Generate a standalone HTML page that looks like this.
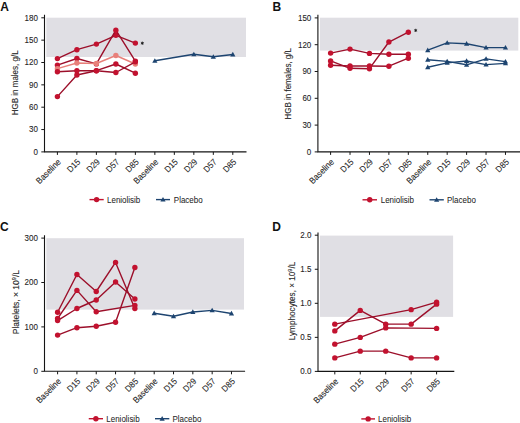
<!DOCTYPE html>
<html><head><meta charset="utf-8"><style>
html,body{margin:0;padding:0;background:#fff;}
body{width:520px;height:423px;overflow:hidden;}
svg{display:block;font-family:"Liberation Sans", sans-serif;}
text{stroke:#262626;stroke-width:0.1px;}
text.lg{stroke-width:0.05px;}
text[font-weight]{stroke:none;}
</style></head><body>
<svg width="520" height="423" viewBox="0 0 520 423" fill="#262626">
<rect x="46.3" y="17.7" width="199.7" height="39.3" fill="#e0dfe4"/>
<text transform="translate(0.3 10.5)" font-size="12" font-weight="bold" fill="#111">A</text>
<path d="M44.5 14.8V151.9H246.5" fill="none" stroke="#151515" stroke-width="1.1"/>
<path d="M41.3 151.9H44.5" stroke="#151515" stroke-width="1"/>
<text transform="translate(37.9 154.8) scale(0.9 1)" font-size="8.9" text-anchor="end">0</text>
<path d="M41.3 129.55H44.5" stroke="#151515" stroke-width="1"/>
<text transform="translate(37.9 132.45) scale(0.9 1)" font-size="8.9" text-anchor="end">30</text>
<path d="M41.3 107.2H44.5" stroke="#151515" stroke-width="1"/>
<text transform="translate(37.9 110.1) scale(0.9 1)" font-size="8.9" text-anchor="end">60</text>
<path d="M41.3 84.85H44.5" stroke="#151515" stroke-width="1"/>
<text transform="translate(37.9 87.75) scale(0.9 1)" font-size="8.9" text-anchor="end">90</text>
<path d="M41.3 62.5H44.5" stroke="#151515" stroke-width="1"/>
<text transform="translate(37.9 65.4) scale(0.9 1)" font-size="8.9" text-anchor="end">120</text>
<path d="M41.3 40.15H44.5" stroke="#151515" stroke-width="1"/>
<text transform="translate(37.9 43.05) scale(0.9 1)" font-size="8.9" text-anchor="end">150</text>
<path d="M41.3 17.8H44.5" stroke="#151515" stroke-width="1"/>
<text transform="translate(37.9 20.7) scale(0.9 1)" font-size="8.9" text-anchor="end">180</text>
<path d="M57.4 151.9V154.9" stroke="#151515" stroke-width="1"/>
<text transform="translate(61.5 162.5) rotate(-45) scale(0.93 1)" font-size="8.7" text-anchor="end">Baseline</text>
<path d="M76.89 151.9V154.9" stroke="#151515" stroke-width="1"/>
<text transform="translate(80.99 162.5) rotate(-45) scale(0.93 1)" font-size="8.7" text-anchor="end">D15</text>
<path d="M96.38 151.9V154.9" stroke="#151515" stroke-width="1"/>
<text transform="translate(100.48 162.5) rotate(-45) scale(0.93 1)" font-size="8.7" text-anchor="end">D29</text>
<path d="M115.87 151.9V154.9" stroke="#151515" stroke-width="1"/>
<text transform="translate(119.97 162.5) rotate(-45) scale(0.93 1)" font-size="8.7" text-anchor="end">D57</text>
<path d="M135.36 151.9V154.9" stroke="#151515" stroke-width="1"/>
<text transform="translate(139.46 162.5) rotate(-45) scale(0.93 1)" font-size="8.7" text-anchor="end">D85</text>
<path d="M154.85 151.9V154.9" stroke="#151515" stroke-width="1"/>
<text transform="translate(158.95 162.5) rotate(-45) scale(0.93 1)" font-size="8.7" text-anchor="end">Baseline</text>
<path d="M174.34 151.9V154.9" stroke="#151515" stroke-width="1"/>
<text transform="translate(178.44 162.5) rotate(-45) scale(0.93 1)" font-size="8.7" text-anchor="end">D15</text>
<path d="M193.83 151.9V154.9" stroke="#151515" stroke-width="1"/>
<text transform="translate(197.93 162.5) rotate(-45) scale(0.93 1)" font-size="8.7" text-anchor="end">D29</text>
<path d="M213.32 151.9V154.9" stroke="#151515" stroke-width="1"/>
<text transform="translate(217.42 162.5) rotate(-45) scale(0.93 1)" font-size="8.7" text-anchor="end">D57</text>
<path d="M232.81 151.9V154.9" stroke="#151515" stroke-width="1"/>
<text transform="translate(236.91 162.5) rotate(-45) scale(0.93 1)" font-size="8.7" text-anchor="end">D85</text>
<text transform="translate(18.4 82.8) rotate(-90) scale(0.952 1)" font-size="8.4" text-anchor="middle">HGB in males, g/L</text>
<path d="M57.4 58.6L76.89 49.7L96.38 44.1L115.87 35.3L135.36 43.1" fill="none" stroke="#9c0f2a" stroke-width="1.4" stroke-linejoin="round"/>
<circle cx="57.4" cy="58.6" r="2.7" fill="#c2122f"/>
<circle cx="76.89" cy="49.7" r="2.7" fill="#c2122f"/>
<circle cx="96.38" cy="44.1" r="2.7" fill="#c2122f"/>
<circle cx="115.87" cy="35.3" r="2.7" fill="#c2122f"/>
<circle cx="135.36" cy="43.1" r="2.7" fill="#c2122f"/>
<path d="M57.4 65.1L76.89 58.5L96.38 63.9L115.87 30.2L135.36 61.1" fill="none" stroke="#9c0f2a" stroke-width="1.4" stroke-linejoin="round"/>
<circle cx="57.4" cy="65.1" r="2.7" fill="#c2122f"/>
<circle cx="76.89" cy="58.5" r="2.7" fill="#c2122f"/>
<circle cx="96.38" cy="63.9" r="2.7" fill="#c2122f"/>
<circle cx="115.87" cy="30.2" r="2.7" fill="#c2122f"/>
<circle cx="135.36" cy="61.1" r="2.7" fill="#c2122f"/>
<path d="M57.4 68.7L76.89 63L96.38 63.5L115.87 55.5L135.36 64" fill="none" stroke="#e8807a" stroke-width="1.4" stroke-linejoin="round"/>
<circle cx="57.4" cy="68.7" r="2.7" fill="#e8807a"/>
<circle cx="76.89" cy="63" r="2.7" fill="#e8807a"/>
<circle cx="96.38" cy="63.5" r="2.7" fill="#e8807a"/>
<circle cx="115.87" cy="55.5" r="2.7" fill="#e8807a"/>
<circle cx="135.36" cy="64" r="2.7" fill="#e8807a"/>
<path d="M57.4 71.8L76.89 70.7L96.38 70.7L115.87 64L135.36 73.2" fill="none" stroke="#9c0f2a" stroke-width="1.4" stroke-linejoin="round"/>
<circle cx="57.4" cy="71.8" r="2.7" fill="#c2122f"/>
<circle cx="76.89" cy="70.7" r="2.7" fill="#c2122f"/>
<circle cx="96.38" cy="70.7" r="2.7" fill="#c2122f"/>
<circle cx="115.87" cy="64" r="2.7" fill="#c2122f"/>
<circle cx="135.36" cy="73.2" r="2.7" fill="#c2122f"/>
<path d="M57.4 96.6L76.89 75L96.38 70.7L115.87 72.5L135.36 61.8" fill="none" stroke="#9c0f2a" stroke-width="1.4" stroke-linejoin="round"/>
<circle cx="57.4" cy="96.6" r="2.7" fill="#c2122f"/>
<circle cx="76.89" cy="75" r="2.7" fill="#c2122f"/>
<circle cx="96.38" cy="70.7" r="2.7" fill="#c2122f"/>
<circle cx="115.87" cy="72.5" r="2.7" fill="#c2122f"/>
<circle cx="135.36" cy="61.8" r="2.7" fill="#c2122f"/>
<path d="M154.85 60.8L193.83 54.3L213.32 56.8L232.81 54.5" fill="none" stroke="#1d4470" stroke-width="1.4" stroke-linejoin="round"/>
<path d="M152.25 62.73L157.45 62.73L154.85 58.13Z" fill="#1d4470"/>
<path d="M191.23 56.23L196.43 56.23L193.83 51.63Z" fill="#1d4470"/>
<path d="M210.72 58.73L215.92 58.73L213.32 54.13Z" fill="#1d4470"/>
<path d="M230.21 56.43L235.41 56.43L232.81 51.83Z" fill="#1d4470"/>
<path d="M142.3 41.6V44.8M140.9 42.4L143.7 44M140.9 44L143.7 42.4" stroke="#1a1a1a" stroke-width="0.9"/>
<path d="M89.5 199.6H103.7" stroke="#c2122f" stroke-width="1.4"/>
<circle cx="96.6" cy="199.6" r="2.7" fill="#c2122f"/>
<text transform="translate(107 202.7) scale(0.952 1)" font-size="8.4" class="lg">Leniolisib</text>
<path d="M156 199.6H170" stroke="#1d4470" stroke-width="1.4"/>
<path d="M160.4 201.53L165.6 201.53L163 196.93Z" fill="#1d4470"/>
<text transform="translate(173.8 202.7) scale(0.952 1)" font-size="8.4" class="lg">Placebo</text>
<rect x="320" y="17.7" width="198.3" height="32.9" fill="#e0dfe4"/>
<text transform="translate(272.4 10.6)" font-size="12" font-weight="bold" fill="#111">B</text>
<path d="M317.9 14.8V151.9H520" fill="none" stroke="#151515" stroke-width="1.1"/>
<path d="M314.7 151.9H317.9" stroke="#151515" stroke-width="1"/>
<text transform="translate(311.3 154.8) scale(0.9 1)" font-size="8.9" text-anchor="end">0</text>
<path d="M314.7 125.1H317.9" stroke="#151515" stroke-width="1"/>
<text transform="translate(311.3 128) scale(0.9 1)" font-size="8.9" text-anchor="end">30</text>
<path d="M314.7 98.3H317.9" stroke="#151515" stroke-width="1"/>
<text transform="translate(311.3 101.2) scale(0.9 1)" font-size="8.9" text-anchor="end">60</text>
<path d="M314.7 71.5H317.9" stroke="#151515" stroke-width="1"/>
<text transform="translate(311.3 74.4) scale(0.9 1)" font-size="8.9" text-anchor="end">90</text>
<path d="M314.7 44.7H317.9" stroke="#151515" stroke-width="1"/>
<text transform="translate(311.3 47.6) scale(0.9 1)" font-size="8.9" text-anchor="end">120</text>
<path d="M314.7 17.9H317.9" stroke="#151515" stroke-width="1"/>
<text transform="translate(311.3 20.8) scale(0.9 1)" font-size="8.9" text-anchor="end">150</text>
<path d="M330.6 151.9V154.9" stroke="#151515" stroke-width="1"/>
<text transform="translate(334.7 162.5) rotate(-45) scale(0.93 1)" font-size="8.7" text-anchor="end">Baseline</text>
<path d="M350.03 151.9V154.9" stroke="#151515" stroke-width="1"/>
<text transform="translate(354.13 162.5) rotate(-45) scale(0.93 1)" font-size="8.7" text-anchor="end">D15</text>
<path d="M369.46 151.9V154.9" stroke="#151515" stroke-width="1"/>
<text transform="translate(373.56 162.5) rotate(-45) scale(0.93 1)" font-size="8.7" text-anchor="end">D29</text>
<path d="M388.89 151.9V154.9" stroke="#151515" stroke-width="1"/>
<text transform="translate(392.99 162.5) rotate(-45) scale(0.93 1)" font-size="8.7" text-anchor="end">D57</text>
<path d="M408.32 151.9V154.9" stroke="#151515" stroke-width="1"/>
<text transform="translate(412.42 162.5) rotate(-45) scale(0.93 1)" font-size="8.7" text-anchor="end">D85</text>
<path d="M427.75 151.9V154.9" stroke="#151515" stroke-width="1"/>
<text transform="translate(431.85 162.5) rotate(-45) scale(0.93 1)" font-size="8.7" text-anchor="end">Baseline</text>
<path d="M447.18 151.9V154.9" stroke="#151515" stroke-width="1"/>
<text transform="translate(451.28 162.5) rotate(-45) scale(0.93 1)" font-size="8.7" text-anchor="end">D15</text>
<path d="M466.61 151.9V154.9" stroke="#151515" stroke-width="1"/>
<text transform="translate(470.71 162.5) rotate(-45) scale(0.93 1)" font-size="8.7" text-anchor="end">D29</text>
<path d="M486.04 151.9V154.9" stroke="#151515" stroke-width="1"/>
<text transform="translate(490.14 162.5) rotate(-45) scale(0.93 1)" font-size="8.7" text-anchor="end">D57</text>
<path d="M505.47 151.9V154.9" stroke="#151515" stroke-width="1"/>
<text transform="translate(509.57 162.5) rotate(-45) scale(0.93 1)" font-size="8.7" text-anchor="end">D85</text>
<text transform="translate(291.4 83.8) rotate(-90) scale(0.952 1)" font-size="8.4" text-anchor="middle">HGB in females, g/L</text>
<path d="M330.6 53.1L350.03 49.1L369.46 53.4L388.89 54.3L408.32 54.3" fill="none" stroke="#9c0f2a" stroke-width="1.4" stroke-linejoin="round"/>
<circle cx="330.6" cy="53.1" r="2.7" fill="#c2122f"/>
<circle cx="350.03" cy="49.1" r="2.7" fill="#c2122f"/>
<circle cx="369.46" cy="53.4" r="2.7" fill="#c2122f"/>
<circle cx="388.89" cy="54.3" r="2.7" fill="#c2122f"/>
<circle cx="408.32" cy="54.3" r="2.7" fill="#c2122f"/>
<path d="M330.6 60.9L350.03 68.3L369.46 68.7L388.89 42L408.32 32.2" fill="none" stroke="#9c0f2a" stroke-width="1.4" stroke-linejoin="round"/>
<circle cx="330.6" cy="60.9" r="2.7" fill="#c2122f"/>
<circle cx="350.03" cy="68.3" r="2.7" fill="#c2122f"/>
<circle cx="369.46" cy="68.7" r="2.7" fill="#c2122f"/>
<circle cx="388.89" cy="42" r="2.7" fill="#c2122f"/>
<circle cx="408.32" cy="32.2" r="2.7" fill="#c2122f"/>
<path d="M330.6 65.2L350.03 66L369.46 66L388.89 66.2L408.32 58.2" fill="none" stroke="#9c0f2a" stroke-width="1.4" stroke-linejoin="round"/>
<circle cx="330.6" cy="65.2" r="2.7" fill="#c2122f"/>
<circle cx="350.03" cy="66" r="2.7" fill="#c2122f"/>
<circle cx="369.46" cy="66" r="2.7" fill="#c2122f"/>
<circle cx="388.89" cy="66.2" r="2.7" fill="#c2122f"/>
<circle cx="408.32" cy="58.2" r="2.7" fill="#c2122f"/>
<path d="M427.75 50.2L447.18 42.9L466.61 43.7L486.04 47.6L505.47 47.6" fill="none" stroke="#1d4470" stroke-width="1.4" stroke-linejoin="round"/>
<path d="M425.15 52.13L430.35 52.13L427.75 47.53Z" fill="#1d4470"/>
<path d="M444.58 44.83L449.78 44.83L447.18 40.23Z" fill="#1d4470"/>
<path d="M464.01 45.63L469.21 45.63L466.61 41.03Z" fill="#1d4470"/>
<path d="M483.44 49.53L488.64 49.53L486.04 44.93Z" fill="#1d4470"/>
<path d="M502.87 49.53L508.07 49.53L505.47 44.93Z" fill="#1d4470"/>
<path d="M427.75 59.7L447.18 61.4L466.61 64.8L486.04 58.9L505.47 61.6" fill="none" stroke="#1d4470" stroke-width="1.4" stroke-linejoin="round"/>
<path d="M425.15 61.63L430.35 61.63L427.75 57.03Z" fill="#1d4470"/>
<path d="M444.58 63.33L449.78 63.33L447.18 58.73Z" fill="#1d4470"/>
<path d="M464.01 66.73L469.21 66.73L466.61 62.13Z" fill="#1d4470"/>
<path d="M483.44 60.83L488.64 60.83L486.04 56.23Z" fill="#1d4470"/>
<path d="M502.87 63.53L508.07 63.53L505.47 58.93Z" fill="#1d4470"/>
<path d="M427.75 67.2L447.18 62.9L466.61 61L486.04 64.6L505.47 63.4" fill="none" stroke="#1d4470" stroke-width="1.4" stroke-linejoin="round"/>
<path d="M425.15 69.13L430.35 69.13L427.75 64.53Z" fill="#1d4470"/>
<path d="M444.58 64.83L449.78 64.83L447.18 60.23Z" fill="#1d4470"/>
<path d="M464.01 62.93L469.21 62.93L466.61 58.33Z" fill="#1d4470"/>
<path d="M483.44 66.53L488.64 66.53L486.04 61.93Z" fill="#1d4470"/>
<path d="M502.87 65.33L508.07 65.33L505.47 60.73Z" fill="#1d4470"/>
<path d="M415.7 28.8V32M414.3 29.6L417.1 31.2M414.3 31.2L417.1 29.6" stroke="#1a1a1a" stroke-width="0.9"/>
<path d="M362.5 199.8H377" stroke="#c2122f" stroke-width="1.4"/>
<circle cx="369.75" cy="199.8" r="2.7" fill="#c2122f"/>
<text transform="translate(380.7 202.9) scale(0.952 1)" font-size="8.4" class="lg">Leniolisib</text>
<path d="M429.5 199.8H443.8" stroke="#1d4470" stroke-width="1.4"/>
<path d="M434.05 201.73L439.25 201.73L436.65 197.13Z" fill="#1d4470"/>
<text transform="translate(447 202.9) scale(0.952 1)" font-size="8.4" class="lg">Placebo</text>
<rect x="46.3" y="238.2" width="197.7" height="71.4" fill="#e0dfe4"/>
<text transform="translate(0 231.2)" font-size="12" font-weight="bold" fill="#111">C</text>
<path d="M44.5 235.2V371.3H245.1" fill="none" stroke="#151515" stroke-width="1.1"/>
<path d="M41.3 371.3H44.5" stroke="#151515" stroke-width="1"/>
<text transform="translate(37.9 374.2) scale(0.9 1)" font-size="8.9" text-anchor="end">0</text>
<path d="M41.3 326.9H44.5" stroke="#151515" stroke-width="1"/>
<text transform="translate(37.9 329.8) scale(0.9 1)" font-size="8.9" text-anchor="end">100</text>
<path d="M41.3 282.5H44.5" stroke="#151515" stroke-width="1"/>
<text transform="translate(37.9 285.4) scale(0.9 1)" font-size="8.9" text-anchor="end">200</text>
<path d="M41.3 238.1H44.5" stroke="#151515" stroke-width="1"/>
<text transform="translate(37.9 241) scale(0.9 1)" font-size="8.9" text-anchor="end">300</text>
<path d="M57.6 371.3V374.3" stroke="#151515" stroke-width="1"/>
<text transform="translate(61.7 381.9) rotate(-45) scale(0.93 1)" font-size="8.7" text-anchor="end">Baseline</text>
<path d="M76.92 371.3V374.3" stroke="#151515" stroke-width="1"/>
<text transform="translate(81.02 381.9) rotate(-45) scale(0.93 1)" font-size="8.7" text-anchor="end">D15</text>
<path d="M96.24 371.3V374.3" stroke="#151515" stroke-width="1"/>
<text transform="translate(100.34 381.9) rotate(-45) scale(0.93 1)" font-size="8.7" text-anchor="end">D29</text>
<path d="M115.56 371.3V374.3" stroke="#151515" stroke-width="1"/>
<text transform="translate(119.66 381.9) rotate(-45) scale(0.93 1)" font-size="8.7" text-anchor="end">D57</text>
<path d="M134.88 371.3V374.3" stroke="#151515" stroke-width="1"/>
<text transform="translate(138.98 381.9) rotate(-45) scale(0.93 1)" font-size="8.7" text-anchor="end">D85</text>
<path d="M154.2 371.3V374.3" stroke="#151515" stroke-width="1"/>
<text transform="translate(158.3 381.9) rotate(-45) scale(0.93 1)" font-size="8.7" text-anchor="end">Baseline</text>
<path d="M173.52 371.3V374.3" stroke="#151515" stroke-width="1"/>
<text transform="translate(177.62 381.9) rotate(-45) scale(0.93 1)" font-size="8.7" text-anchor="end">D15</text>
<path d="M192.84 371.3V374.3" stroke="#151515" stroke-width="1"/>
<text transform="translate(196.94 381.9) rotate(-45) scale(0.93 1)" font-size="8.7" text-anchor="end">D29</text>
<path d="M212.16 371.3V374.3" stroke="#151515" stroke-width="1"/>
<text transform="translate(216.26 381.9) rotate(-45) scale(0.93 1)" font-size="8.7" text-anchor="end">D57</text>
<path d="M231.48 371.3V374.3" stroke="#151515" stroke-width="1"/>
<text transform="translate(235.58 381.9) rotate(-45) scale(0.93 1)" font-size="8.7" text-anchor="end">D85</text>
<text transform="translate(18.6 302.1) rotate(-90) scale(1.01 1)" font-size="8.4" text-anchor="middle">Platelets, × 10<tspan font-size="5.6" dy="-3">9</tspan><tspan dy="3">/L</tspan></text>
<path d="M57.6 312.3L76.92 274.5L96.24 291.5L115.56 262.4L134.88 308.6" fill="none" stroke="#9c0f2a" stroke-width="1.4" stroke-linejoin="round"/>
<circle cx="57.6" cy="312.3" r="2.7" fill="#c2122f"/>
<circle cx="76.92" cy="274.5" r="2.7" fill="#c2122f"/>
<circle cx="96.24" cy="291.5" r="2.7" fill="#c2122f"/>
<circle cx="115.56" cy="262.4" r="2.7" fill="#c2122f"/>
<circle cx="134.88" cy="308.6" r="2.7" fill="#c2122f"/>
<path d="M57.6 318.5L76.92 290.4L96.24 311.7L134.88 305.4" fill="none" stroke="#9c0f2a" stroke-width="1.4" stroke-linejoin="round"/>
<circle cx="57.6" cy="318.5" r="2.7" fill="#c2122f"/>
<circle cx="76.92" cy="290.4" r="2.7" fill="#c2122f"/>
<circle cx="96.24" cy="311.7" r="2.7" fill="#c2122f"/>
<circle cx="134.88" cy="305.4" r="2.7" fill="#c2122f"/>
<path d="M57.6 320.6L76.92 308.5L96.24 300L115.56 282L134.88 299" fill="none" stroke="#9c0f2a" stroke-width="1.4" stroke-linejoin="round"/>
<circle cx="57.6" cy="320.6" r="2.7" fill="#c2122f"/>
<circle cx="76.92" cy="308.5" r="2.7" fill="#c2122f"/>
<circle cx="96.24" cy="300" r="2.7" fill="#c2122f"/>
<circle cx="115.56" cy="282" r="2.7" fill="#c2122f"/>
<circle cx="134.88" cy="299" r="2.7" fill="#c2122f"/>
<path d="M57.6 335.1L76.92 327.7L96.24 326.2L115.56 322.3L134.88 267.5" fill="none" stroke="#9c0f2a" stroke-width="1.4" stroke-linejoin="round"/>
<circle cx="57.6" cy="335.1" r="2.7" fill="#c2122f"/>
<circle cx="76.92" cy="327.7" r="2.7" fill="#c2122f"/>
<circle cx="96.24" cy="326.2" r="2.7" fill="#c2122f"/>
<circle cx="115.56" cy="322.3" r="2.7" fill="#c2122f"/>
<circle cx="134.88" cy="267.5" r="2.7" fill="#c2122f"/>
<path d="M154.2 313.2L173.52 316.3L192.84 312L212.16 310.4L231.48 313.5" fill="none" stroke="#1d4470" stroke-width="1.4" stroke-linejoin="round"/>
<path d="M151.6 315.13L156.8 315.13L154.2 310.53Z" fill="#1d4470"/>
<path d="M170.92 318.23L176.12 318.23L173.52 313.63Z" fill="#1d4470"/>
<path d="M190.24 313.93L195.44 313.93L192.84 309.33Z" fill="#1d4470"/>
<path d="M209.56 312.33L214.76 312.33L212.16 307.73Z" fill="#1d4470"/>
<path d="M228.88 315.43L234.08 315.43L231.48 310.83Z" fill="#1d4470"/>
<path d="M88.75 418.7H103" stroke="#c2122f" stroke-width="1.4"/>
<circle cx="95.88" cy="418.7" r="2.7" fill="#c2122f"/>
<text transform="translate(106.3 421.8) scale(0.952 1)" font-size="8.4" class="lg">Leniolisib</text>
<path d="M155 418.7H169.3" stroke="#1d4470" stroke-width="1.4"/>
<path d="M159.55 420.63L164.75 420.63L162.15 416.03Z" fill="#1d4470"/>
<text transform="translate(172.5 421.8) scale(0.952 1)" font-size="8.4" class="lg">Placebo</text>
<rect x="320" y="235.6" width="133.1" height="81.3" fill="#e0dfe4"/>
<text transform="translate(272.3 231.2)" font-size="12" font-weight="bold" fill="#111">D</text>
<path d="M318 232.4V371.4H454.3" fill="none" stroke="#151515" stroke-width="1.1"/>
<path d="M314.8 371.4H318" stroke="#151515" stroke-width="1"/>
<text transform="translate(311.4 374.3) scale(0.9 1)" font-size="8.9" text-anchor="end">0.0</text>
<path d="M314.8 337.35H318" stroke="#151515" stroke-width="1"/>
<text transform="translate(311.4 340.25) scale(0.9 1)" font-size="8.9" text-anchor="end">0.5</text>
<path d="M314.8 303.3H318" stroke="#151515" stroke-width="1"/>
<text transform="translate(311.4 306.2) scale(0.9 1)" font-size="8.9" text-anchor="end">1.0</text>
<path d="M314.8 269.25H318" stroke="#151515" stroke-width="1"/>
<text transform="translate(311.4 272.15) scale(0.9 1)" font-size="8.9" text-anchor="end">1.5</text>
<path d="M314.8 235.2H318" stroke="#151515" stroke-width="1"/>
<text transform="translate(311.4 238.1) scale(0.9 1)" font-size="8.9" text-anchor="end">2.0</text>
<path d="M334.8 371.4V374.4" stroke="#151515" stroke-width="1"/>
<text transform="translate(338.9 382) rotate(-45) scale(0.93 1)" font-size="8.7" text-anchor="end">Baseline</text>
<path d="M360.25 371.4V374.4" stroke="#151515" stroke-width="1"/>
<text transform="translate(364.35 382) rotate(-45) scale(0.93 1)" font-size="8.7" text-anchor="end">D15</text>
<path d="M385.7 371.4V374.4" stroke="#151515" stroke-width="1"/>
<text transform="translate(389.8 382) rotate(-45) scale(0.93 1)" font-size="8.7" text-anchor="end">D29</text>
<path d="M411.15 371.4V374.4" stroke="#151515" stroke-width="1"/>
<text transform="translate(415.25 382) rotate(-45) scale(0.93 1)" font-size="8.7" text-anchor="end">D57</text>
<path d="M436.6 371.4V374.4" stroke="#151515" stroke-width="1"/>
<text transform="translate(440.7 382) rotate(-45) scale(0.93 1)" font-size="8.7" text-anchor="end">D85</text>
<text transform="translate(294.8 301) rotate(-90) scale(0.975 1)" font-size="8.4" text-anchor="middle">Lymphocytes, × 10<tspan font-size="5.6" dy="-3">9</tspan><tspan dy="3">/L</tspan></text>
<path d="M334.8 324.15L411.15 309.65L436.6 302.15" fill="none" stroke="#9c0f2a" stroke-width="1.4" stroke-linejoin="round"/>
<circle cx="334.8" cy="324.15" r="2.7" fill="#c2122f"/>
<circle cx="411.15" cy="309.65" r="2.7" fill="#c2122f"/>
<circle cx="436.6" cy="302.15" r="2.7" fill="#c2122f"/>
<path d="M334.8 330.9L360.25 310.4L385.7 324.15L411.15 324.15L436.6 304.15" fill="none" stroke="#9c0f2a" stroke-width="1.4" stroke-linejoin="round"/>
<circle cx="334.8" cy="330.9" r="2.7" fill="#c2122f"/>
<circle cx="360.25" cy="310.4" r="2.7" fill="#c2122f"/>
<circle cx="385.7" cy="324.15" r="2.7" fill="#c2122f"/>
<circle cx="411.15" cy="324.15" r="2.7" fill="#c2122f"/>
<circle cx="436.6" cy="304.15" r="2.7" fill="#c2122f"/>
<path d="M334.8 344.15L360.25 337.4L385.7 327.9L436.6 328.4" fill="none" stroke="#9c0f2a" stroke-width="1.4" stroke-linejoin="round"/>
<circle cx="334.8" cy="344.15" r="2.7" fill="#c2122f"/>
<circle cx="360.25" cy="337.4" r="2.7" fill="#c2122f"/>
<circle cx="385.7" cy="327.9" r="2.7" fill="#c2122f"/>
<circle cx="436.6" cy="328.4" r="2.7" fill="#c2122f"/>
<path d="M334.8 357.9L360.25 351.15L385.7 351.15L411.15 357.9L436.6 357.9" fill="none" stroke="#9c0f2a" stroke-width="1.4" stroke-linejoin="round"/>
<circle cx="334.8" cy="357.9" r="2.7" fill="#c2122f"/>
<circle cx="360.25" cy="351.15" r="2.7" fill="#c2122f"/>
<circle cx="385.7" cy="351.15" r="2.7" fill="#c2122f"/>
<circle cx="411.15" cy="357.9" r="2.7" fill="#c2122f"/>
<circle cx="436.6" cy="357.9" r="2.7" fill="#c2122f"/>
<path d="M361.3 418.9H375" stroke="#c2122f" stroke-width="1.4"/>
<circle cx="368.15" cy="418.9" r="2.7" fill="#c2122f"/>
<text transform="translate(378 422) scale(0.952 1)" font-size="8.4" class="lg">Leniolisib</text>
</svg>
</body></html>
